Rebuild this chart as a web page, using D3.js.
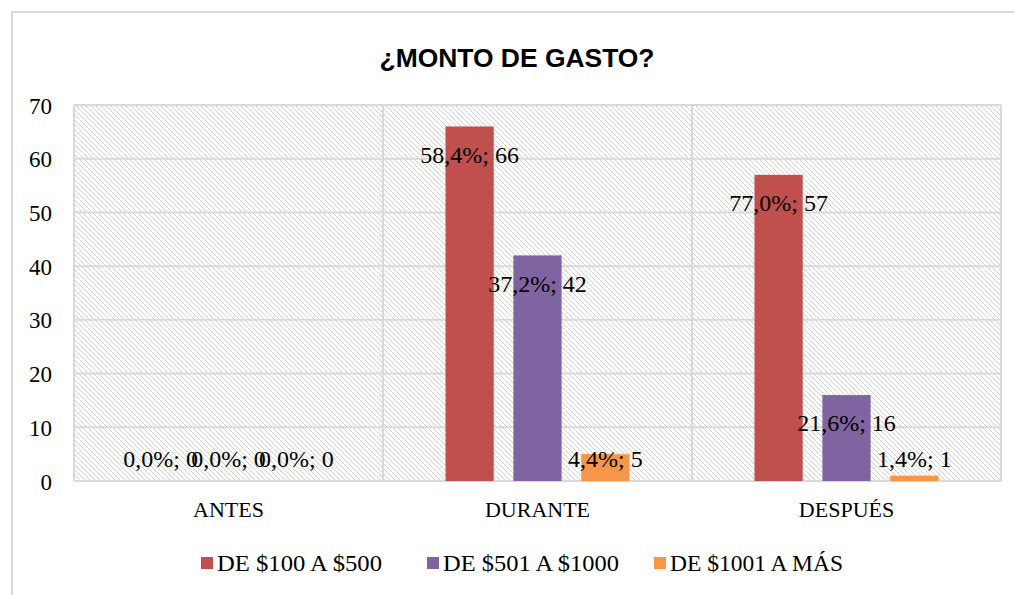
<!DOCTYPE html>
<html><head><meta charset="utf-8">
<script src="https://cdn.jsdelivr.net/npm/d3@7"></script>
<style>body{margin:0;background:#fff}svg{display:block}</style>
</head><body>
<script>
const categories = ["ANTES", "DURANTE", "DESPUÉS"];
const seriesNames = ["DE $100 A $500", "DE $501 A $1000", "DE $1001 A MÁS"];
const valuesLow = [0, 66, 57];
const valuesMid = [0, 42, 16];
const valuesHigh = [0, 5, 1];
const pctLow = ["0,0%", "58,4%", "77,0%"];
const pctMid = ["0,0%", "37,2%", "21,6%"];
const pctHigh = ["0,0%", "4,4%", "1,4%"];
const yTicks = [0, 10, 20, 30, 40, 50, 60, 70];
const colors = ["#C0504D", "#8064A2", "#F79646"];
const title = "¿MONTO DE GASTO?";

const W = 1014, H = 595;
const svg = d3.select("body").append("svg").attr("width", W).attr("height", H);
const defs = svg.append("defs");
const pat = defs.append("pattern").attr("id", "hatch").attr("patternUnits", "userSpaceOnUse")
  .attr("width", 5).attr("height", 5);
pat.append("rect").attr("width", 5).attr("height", 5).attr("fill", "#fff");
pat.append("path").attr("d", "M-1,-1 L6,6 M-1,4 L1,6 M4,-1 L6,1").attr("stroke", "#d4d4d4").attr("stroke-width", 1);

// outer chart border
svg.append("path").attr("d", "M12,595 L12,12 L1014,12").attr("fill", "none").attr("stroke", "#d9d9d9").attr("stroke-width", 2);

const m = {left: 74, right: 1001, top: 105, bottom: 481};
const x = d3.scaleBand().domain(categories).range([m.left, m.right]);
const y = d3.scaleLinear().domain([0, 70]).range([m.bottom, m.top]);
const xs = d3.scaleBand().domain([0, 1, 2]).range([-92, 92]).paddingInner(0.29).paddingOuter(0);

svg.append("rect").attr("x", m.left).attr("y", m.top).attr("width", m.right - m.left).attr("height", m.bottom - m.top).attr("fill", "url(#hatch)");

const grid = svg.append("g");
grid.selectAll("line.h").data(yTicks).join("line")
  .attr("x1", m.left).attr("x2", m.right).attr("y1", d => y(d)).attr("y2", d => y(d))
  .attr("stroke", "#d9d9d9").attr("stroke-width", 2);
grid.selectAll("line.v").data([m.left, ...categories.map(c => x(c) + x.bandwidth())]).join("line").attr("class", "v")
  .attr("x1", d => d).attr("x2", d => d).attr("y1", m.top).attr("y2", m.bottom)
  .attr("stroke", "#d9d9d9").attr("stroke-width", 2);

// y axis labels
const yAxis = d3.axisLeft(y).tickValues(yTicks).tickSize(0).tickPadding(22);
const ga = svg.append("g").attr("transform", `translate(${m.left},0)`).call(yAxis);
ga.select(".domain").remove();
ga.selectAll("text").attr("font-family", "Liberation Serif").attr("font-size", 23).attr("fill", "#000").attr("dy", "0.35em");

const xAxis = d3.axisBottom(x).tickSize(0).tickPadding(20);
const gx = svg.append("g").attr("transform", `translate(0,${m.bottom})`).call(xAxis);
gx.select(".domain").remove();
gx.selectAll("text").attr("font-family", "Liberation Serif").attr("font-size", 22).attr("fill", "#000");

const series = [valuesLow, valuesMid, valuesHigh];
const pcts = [pctLow, pctMid, pctHigh];
const data = [];
series.forEach((vals, s) => vals.forEach((v, i) => data.push({s, cat: categories[i], v, p: pcts[s][i]})));

const bx = d => x(d.cat) + x.bandwidth() / 2 + xs(d.s);
svg.append("g").selectAll("rect").data(data).join("rect")
  .attr("x", bx).attr("width", xs.bandwidth())
  .attr("y", d => y(d.v)).attr("height", d => y(0) - y(d.v))
  .attr("fill", d => colors[d.s]);

svg.append("g").selectAll("text").data(data).join("text")
  .attr("x", d => bx(d) + xs.bandwidth() / 2)
  .attr("y", d => Math.min(y(d.v) + 28, 459))
  .attr("dy", "0.35em").attr("text-anchor", "middle")
  .attr("font-family", "Liberation Serif").attr("font-size", 24).attr("fill", "#000")
  .text(d => `${d.p}; ${d.v}`);

svg.append("text").attr("x", 517).attr("y", 58).attr("dy", "0.35em").attr("text-anchor", "middle")
  .attr("font-family", "Liberation Sans").attr("font-weight", "bold").attr("font-size", 25).attr("fill", "#000")
  .attr("textLength", 275).attr("lengthAdjust", "spacingAndGlyphs")
  .text(title);

// legend
const legX = [201, 427, 654];
const legW = [165, 176, 173];
const lg = svg.append("g").selectAll("g").data(seriesNames).join("g")
  .attr("transform", (d, i) => `translate(${legX[i]},563)`);
lg.append("rect").attr("x", 0).attr("y", -6).attr("width", 12).attr("height", 12).attr("fill", (d, i) => colors[i]);
lg.append("text").attr("x", 16).attr("dy", "0.35em").attr("font-family", "Liberation Serif").attr("font-size", 23).attr("fill", "#000")
  .attr("textLength", (d, i) => legW[i]).attr("lengthAdjust", "spacingAndGlyphs").text(d => d);
</script>
</body></html>
